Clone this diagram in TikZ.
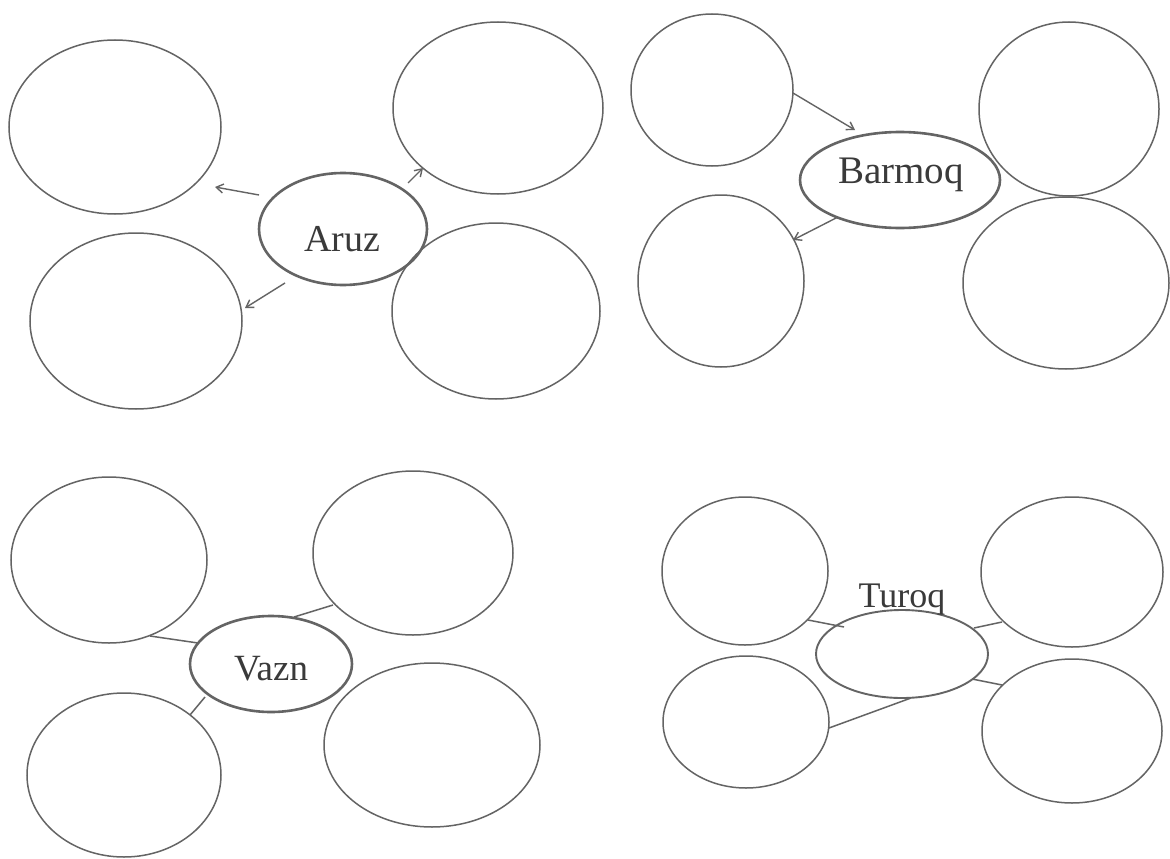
\documentclass[tikz,border=0pt]{standalone}
\usepackage{fontspec}
\setmainfont{Liberation Serif}
\usetikzlibrary{shapes.geometric,arrows.meta}
\definecolor{inkgray}{RGB}{100,100,100}
\definecolor{textgray}{RGB}{58,58,58}
\begin{document}
\begin{tikzpicture}[x=1pt,y=-1pt,
  bub/.style 2 args={ellipse,draw=inkgray,line width=1.5pt,inner sep=0pt,outer sep=0pt,minimum width=#1pt,minimum height=#2pt},
  hub/.style 2 args={bub={#1}{#2},line width=2.6pt},
  lbl/.style={text=textgray,inner sep=0pt,anchor=base},
  arr/.style={draw=inkgray,line width=1.4pt,-{Straight Barb[length=7pt,width=9pt]}},
  lnk/.style={draw=inkgray,line width=1.5pt}
]
\useasboundingbox (0,0) rectangle (1170,859);
\fill[white] (0,0) rectangle (1170,859);

% Aruz group
\node[bub={212}{174}] (a1) at (115,127) {};
\node[bub={210}{172}] (a2) at (498,108) {};
\node[hub={168}{112}] (aruz) at (343,229) {};
\node[bub={212}{176}] (a3) at (136,321) {};
\node[bub={208}{176}] (a4) at (496,311) {};
\node[lbl,font=\fontsize{38}{40}\selectfont] (aruzt) at (342,251) {Aruz};
\draw[arr] ([shift={(-84,-34)}]aruz.center) -- ([shift={(100,60)}]a1.center);
\draw[arr] ([shift={(65,-46)}]aruz.center) -- ([shift={(-75,60)}]a2.center);
\draw[arr] ([shift={(-58,54)}]aruz.center) -- ([shift={(109,-13)}]a3.center);

% Barmoq group
\node[bub={162}{152}] (b1) at (712,90) {};
\node[hub={200}{96}] (barmoq) at (900,180) {};
\node[bub={180}{174}] (b2) at (1069,109) {};
\node[bub={166}{172}] (b3) at (721,281) {};
\node[bub={206}{172}] (b4) at (1066,283) {};
\node[lbl,font=\fontsize{39}{41}\selectfont] (barmoqt) at (901,183) {Barmoq};
\draw[arr] ([shift={(81,3)}]b1.center) -- ([shift={(-45,-50)}]barmoq.center);
\draw[arr] ([shift={(-62,37)}]barmoq.center) -- ([shift={(72,-41)}]b3.center);

% Vazn group
\node[bub={196}{166}] (v1) at (109,560) {};
\node[bub={200}{164}] (v2) at (413,553) {};
\node[hub={162}{96}] (vazn) at (271,664) {};
\node[bub={194}{164}] (v3) at (124,775) {};
\node[bub={216}{164}] (v4) at (432,745) {};
\node[lbl,font=\fontsize{37}{39}\selectfont] (vaznt) at (271,680) {Vazn};
\draw[lnk] ([shift={(41,76)}]v1.center) -- ([shift={(-73,-21)}]vazn.center);
\draw[lnk] ([shift={(-80,52)}]v2.center) -- ([shift={(23,-47)}]vazn.center);
\draw[lnk] ([shift={(66,-60)}]v3.center) -- ([shift={(-66,33)}]vazn.center);

% Turoq group
\node[bub={166}{148}] (t1) at (745,571) {};
\node[bub={182}{150}] (t2) at (1072,572) {};
\node[bub={172}{88},line width=1.9pt] (turoq) at (902,654) {};
\node[bub={166}{132}] (t3) at (746,722) {};
\node[bub={180}{144}] (t4) at (1072,731) {};
\node[lbl,font=\fontsize{36}{38}\selectfont] (turoqt) at (902,607) {Turoq};
\draw[lnk] ([shift={(63,49)}]t1.center) -- ([shift={(-58,-27)}]turoq.center);
\draw[lnk] ([shift={(72,-26)}]turoq.center) -- ([shift={(-70,50)}]t2.center);
\draw[lnk] ([shift={(70,25)}]turoq.center) -- ([shift={(-70,-46)}]t4.center);
\draw[lnk] ([shift={(83,6)}]t3.center) -- ([shift={(9,44)}]turoq.center);
\end{tikzpicture}
\end{document}
